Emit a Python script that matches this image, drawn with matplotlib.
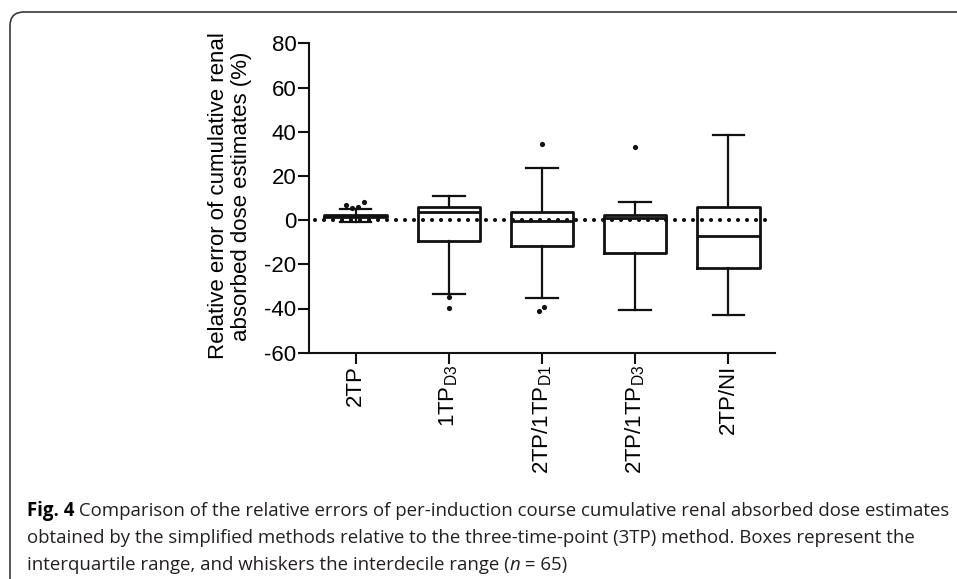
import numpy as np
import matplotlib
matplotlib.use('Agg')
import matplotlib.pyplot as plt
import matplotlib.patches as mpatches
from matplotlib.transforms import IdentityTransform

plt.rcParams['font.family'] = ['Liberation Sans', 'DejaVu Sans']
plt.rcParams['mathtext.fontset'] = 'custom'
plt.rcParams['mathtext.rm'] = 'Liberation Sans'
plt.rcParams['mathtext.it'] = 'Liberation Sans:italic'
plt.rcParams['axes.unicode_minus'] = False

# values (relative error, %)
methods = ['2TP', '1TP$_{\\mathrm{D3}}$', '2TP/1TP$_{\\mathrm{D1}}$',
           '2TP/1TP$_{\\mathrm{D3}}$', '2TP/NI']
q1 = [1.6, -9.3, -11.8, -14.8, -21.9]
med = [2.0, 3.8, -0.5, 1.0, -7.4]
q3 = [2.4, 6.0, 3.8, 2.2, 5.9]
whis_lo = [-1.0, -33.5, -35.1, -40.7, -43.1]
whis_hi = [5.0, 11.0, 23.5, 8.4, 38.3]
fliers = [[6.8, 5.7, 6.0, 8.3], [-34.7, -39.7], [34.4, -41.2, -39.2], [33.2], []]
# small horizontal spread of the outlier dots, as drawn by the original
flier_dx = [[-0.1, -0.035, 0.03, 0.095], [0, 0], [0, -0.03, 0.02], [0], []]

caption_lines = [
    'Comparison of the relative errors of per-induction course cumulative renal absorbed dose estimates',
    'obtained by the simplified methods relative to the three-time-point (3TP) method. Boxes represent the',
    'interquartile range, and whiskers the interdecile range (',
]

W, H = 957, 579
fig = plt.figure(figsize=(W / 100, H / 100), dpi=100)
ax = fig.add_axes([309 / W, 1 - 352.7 / H, (775 - 309) / W, (352.7 - 43.3) / H])

pos = np.arange(1, len(methods) + 1)
stats = [dict(med=m, q1=a, q3=b, whislo=lo, whishi=hi, fliers=[])
         for m, a, b, lo, hi in zip(med, q1, q3, whis_lo, whis_hi)]

ax.bxp(stats, positions=pos, widths=0.67, capwidths=0.34, showfliers=False,
       boxprops=dict(color='#111111', linewidth=2.0),
       medianprops=dict(color='#111111', linewidth=2.0),
       whiskerprops=dict(color='#111111', linewidth=1.6),
       capprops=dict(color='#111111', linewidth=1.6))

for p, fl, dx in zip(pos, fliers, flier_dx):
    if fl:
        ax.scatter(p + np.array(dx), fl, s=14, color='#111111', zorder=4,
                   linewidths=0)

ax.axhline(0, xmin=0.012, xmax=0.99, color='#111111', linewidth=3,
           linestyle=(0, (0.01, 2.15)), dash_capstyle='round', zorder=5)

ax.set_xlim(0.5, 5.5)
ax.set_ylim(-60, 80)
ax.set_yticks(np.arange(-60, 81, 20))
ax.set_xticks(pos)
ax.set_xticklabels(methods, rotation=90)

for s in ['top', 'right']:
    ax.spines[s].set_visible(False)
for s in ['left', 'bottom']:
    ax.spines[s].set_linewidth(1.5)
    ax.spines[s].set_color('#111111')
ax.tick_params(axis='both', direction='out', length=8, width=1.5,
               color='#111111', labelsize=16, pad=1)

fig.text(230 / W, 1 - 196 / H,
         'Relative error of cumulative renal\nabsorbed dose estimates (%)',
         rotation=90, ha='center', va='center', fontsize=16,
         multialignment='center', linespacing=1.12)

# caption with bold figure number
cap_font = ['Open Sans', 'DejaVu Sans']
cap_col = '#231f20'
x0 = 27
base = [516, 543, 570]
size = 11
renderer = fig.canvas.get_renderer()
tb = fig.text(x0 / W, 1 - base[0] / H, 'Fig. 4', fontsize=size, fontweight='bold',
              family=cap_font, color='#000000', va='baseline')
tr = fig.text(0, 1 - base[0] / H, ' ' + caption_lines[0], fontsize=size,
              family=cap_font, color=cap_col, va='baseline')
wtot = tb.get_window_extent(renderer).width + tr.get_window_extent(renderer).width
size = size * (950 - x0) / wtot
tb.set_fontsize(size)
tr.set_fontsize(size)
tr.set_x(tb.get_window_extent(renderer).x1 / W)

for line, b in zip(caption_lines[1:], base[1:]):
    fig.text(x0 / W, 1 - b / H, line, fontsize=size, family=cap_font,
             color=cap_col, va='baseline')
t3 = fig.texts[-1]
xe = t3.get_window_extent(renderer).x1
tn = fig.text(xe / W, 1 - base[2] / H, 'n', fontsize=size, family=cap_font,
              style='italic', color=cap_col, va='baseline')
xe = tn.get_window_extent(renderer).x1
fig.text(xe / W, 1 - base[2] / H, ' = 65)', fontsize=size, family=cap_font,
         color=cap_col, va='baseline')

# rounded frame around the figure, running off the right and bottom edges
frame = mpatches.FancyBboxPatch((10, -40), 1000, 607,
                                boxstyle='round,pad=0,rounding_size=14',
                                transform=IdentityTransform(), fill=False,
                                edgecolor='#3a3a3a', linewidth=1.2)
fig.add_artist(frame)

fig.savefig('out.png', dpi=100)
